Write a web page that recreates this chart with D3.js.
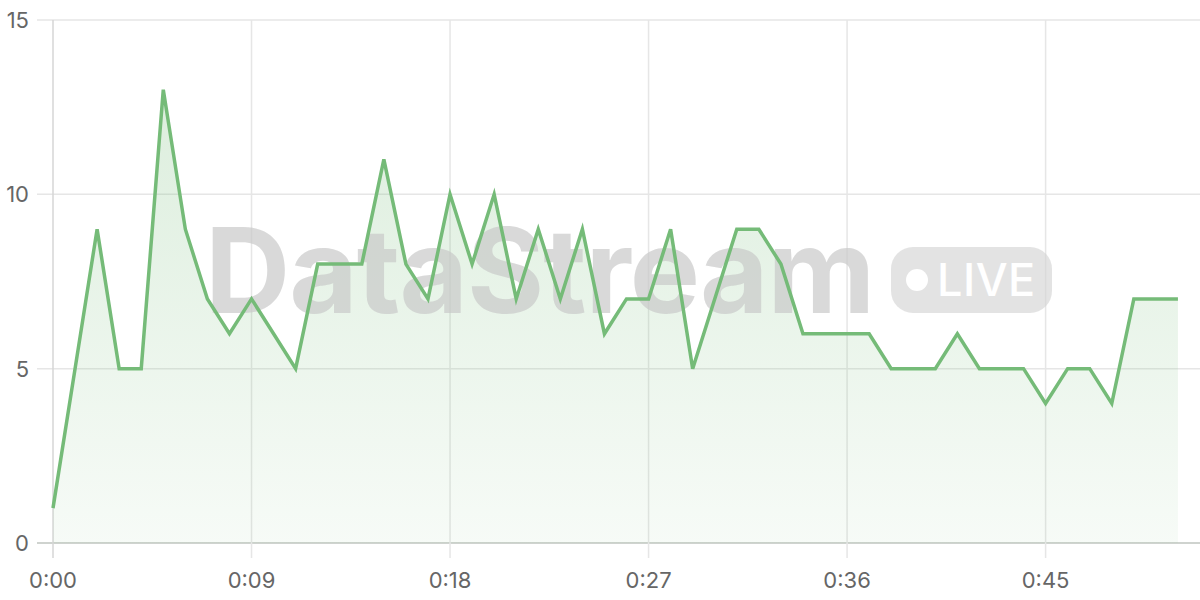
<!DOCTYPE html>
<html><head><meta charset="utf-8">
<script src="https://cdn.jsdelivr.net/npm/d3@7"></script>
<style>html,body{margin:0;padding:0;background:#fff;}svg{display:block;font-family:Inter,"Noto Sans",sans-serif;}</style>
</head><body>
<svg id="c" width="1200" height="600"></svg>
<script>
const seconds = d3.range(0, 52);
const values = [1,5,9,5,5,13,9,7,6,7,6,5,8,8,8,11,8,7,10,8,10,7,9,7,9,6,7,7,9,5,7,9,9,8,6,6,6,6,5,5,5,6,5,5,5,4,5,5,4,7,7,7];
const xTicks = [0, 9, 18, 27, 36, 45];
const yTicks = [0, 5, 10, 15];
const data = seconds.map((s, i) => ({s, v: values[i]}));

const svg = d3.select("#c");
const x = d3.scaleLinear().domain([0, 52]).range([53, 1200]);
const y = d3.scaleLinear().domain([0, 15]).range([543, 20]);
const fmt = s => Math.floor(s/60) + ":" + String(s%60).padStart(2, "0");

const defs = svg.append("defs");
const g = defs.append("linearGradient").attr("id","fillg").attr("x1",0).attr("x2",0).attr("y1",0).attr("y2",1);
g.append("stop").attr("offset","0%").attr("stop-color","#75bb78").attr("stop-opacity",0.25);
g.append("stop").attr("offset","100%").attr("stop-color","#75bb78").attr("stop-opacity",0.06);

// grid
svg.append("g").selectAll("line").data(yTicks).join("line")
  .attr("x1", 37).attr("x2", 1200).attr("y1", d => y(d)).attr("y2", d => y(d))
  .attr("stroke", d => d === 0 ? "#cfd3cf" : "#e6e6e6").attr("stroke-width", d => d === 0 ? 2 : 1.5);
svg.append("g").selectAll("line").data(xTicks).join("line")
  .attr("x1", d => x(d)).attr("x2", d => x(d)).attr("y1", 20).attr("y2", 558)
  .attr("stroke", d => d === 0 ? "#d6d6d6" : "#e6e6e6").attr("stroke-width", 1.5);

// area
svg.append("path").datum(data)
  .attr("d", d3.area().x(d => x(d.s)).y0(y(0)).y1(d => y(d.v)))
  .attr("fill", "url(#fillg)");

// watermark
const wm = svg.append("g").attr("opacity", 0.85);
wm.append("text").attr("x", 205).attr("y", 313).attr("font-size", 118).attr("font-weight", 700)
  .attr("font-family", "Inter, 'Noto Sans', sans-serif").attr("letter-spacing", -1)
  .attr("fill", "#c8c8c8").attr("fill-opacity", 0.8).text("DataStream");
wm.append("rect").attr("x", 891).attr("y", 247).attr("width", 161).attr("height", 66).attr("rx", 22)
  .attr("fill", "#d4d4d4").attr("fill-opacity", 0.75);
wm.append("circle").attr("cx", 917).attr("cy", 280).attr("r", 11).attr("fill", "#fff");
wm.append("text").attr("x", 937).attr("y", 296).attr("font-size", 45).attr("font-weight", 500)
  .attr("font-family", "Inter, 'Noto Sans', sans-serif").attr("letter-spacing", 0.5).attr("fill", "#fff").text("LIVE");

// line
svg.append("path").datum(data)
  .attr("d", d3.line().x(d => x(d.s)).y(d => y(d.v)))
  .attr("fill", "none").attr("stroke", "#75bb78").attr("stroke-width", 3.5).attr("stroke-linejoin", "miter");

// labels
svg.append("g").selectAll("text").data(yTicks).join("text")
  .attr("x", 29).attr("y", d => y(d) + 8).attr("text-anchor", "end")
  .attr("font-size", 22).attr("fill", "#666").text(d => d);
svg.append("g").selectAll("text").data(xTicks).join("text")
  .attr("x", d => x(d)).attr("y", 588).attr("text-anchor", "middle")
  .attr("font-size", 22).attr("fill", "#666").text(fmt);
</script>
</body></html>
